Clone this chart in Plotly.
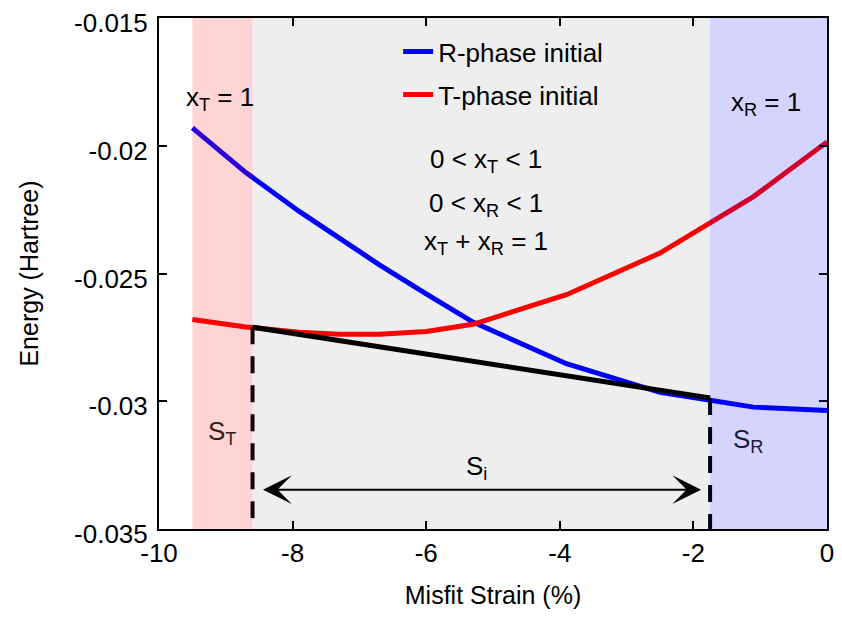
import plotly.graph_objects as go

# ---- data ----
strain = [-9.5, -8.7, -7.9, -7.3, -6.7, -6.0, -5.3, -3.9, -2.5, -1.1, 0.0]
energy_R = [-0.0193, -0.02105, -0.02257, -0.02364, -0.02466, -0.0258, -0.0269,
            -0.02853, -0.02965, -0.03023, -0.03036]
energy_T = [-0.0268, -0.02709, -0.0273, -0.02738, -0.02738, -0.02727, -0.02699,
            -0.02583, -0.0242, -0.02199, -0.01985]
tangent_strain = [-8.6, -1.75]
tangent_energy = [-0.0271, -0.02987]
arrow_energy = -0.03346
x_range = [-10, 0]
y_range = [-0.035, -0.015]
x_ticks = [-10, -8, -6, -4, -2, 0]
x_tick_labels = ["-10", "-8", "-6", "-4", "-2", "0"]
y_ticks = [-0.035, -0.03, -0.025, -0.02, -0.015]
y_tick_labels = ["-0.035", "-0.03", "-0.025", "-0.02", "-0.015"]

FONT = "Liberation Sans, Arial, sans-serif"

fig = go.Figure()

fig.add_trace(go.Scatter(x=strain, y=energy_R, mode="lines", name="R-phase initial",
                         line=dict(color="rgb(0,0,255)", width=5), legendgroup="R"))
fig.add_trace(go.Scatter(x=strain, y=energy_T, mode="lines", name="T-phase initial",
                         line=dict(color="rgb(255,0,0)", width=5), legendgroup="T"))
# common tangent
fig.add_trace(go.Scatter(x=tangent_strain, y=tangent_energy, mode="lines", showlegend=False,
                         line=dict(color="black", width=5)))
# dashed drop lines
for xs, ys in zip(tangent_strain, tangent_energy):
    fig.add_trace(go.Scatter(x=[xs, xs], y=[ys, y_range[0]], mode="lines", showlegend=False,
                             line=dict(color="black", width=4, dash="17px,12px")))

shapes = [
    dict(type="rect", xref="x", yref="paper", x0=tangent_strain[0], x1=tangent_strain[1],
         y0=0, y1=1, fillcolor="#eeeeee", line_width=0, layer="below"),
    dict(type="rect", xref="x", yref="paper", x0=strain[0], x1=tangent_strain[0],
         y0=0, y1=1, fillcolor="rgba(255,0,0,0.17)", line_width=0, layer="above"),
    dict(type="rect", xref="x", yref="paper", x0=tangent_strain[1], x1=strain[-1],
         y0=0, y1=1, fillcolor="rgba(0,0,255,0.17)", line_width=0, layer="above"),
]

ann_font = dict(family=FONT, size=26, color="black")
annotations = [
    dict(x=-9.08, y=-0.01815, text="x<sub>T</sub> = 1", showarrow=False, font=ann_font),
    dict(x=-0.92, y=-0.01835, text="x<sub>R</sub> = 1", showarrow=False, font=ann_font),
    dict(x=-5.11, y=-0.02058, text="0 < x<sub>T</sub> < 1", showarrow=False, font=ann_font),
    dict(x=-5.11, y=-0.02231, text="0 < x<sub>R</sub> < 1", showarrow=False, font=ann_font),
    dict(x=-5.11, y=-0.02377, text="x<sub>T</sub> + x<sub>R</sub> = 1", showarrow=False, font=ann_font),
    dict(x=-9.06, y=-0.03122, text="S<sub>T</sub>", showarrow=False,
         font=dict(family=FONT, size=26, color="#3a1a1a")),
    dict(x=-1.19, y=-0.03154, text="S<sub>R</sub>", showarrow=False,
         font=dict(family=FONT, size=26, color="#1a1a3a")),
    dict(x=-5.24, y=-0.0326, text="S<sub>i</sub>", showarrow=False, font=ann_font),
    dict(x=tangent_strain[1], y=arrow_energy, ax=tangent_strain[0], ay=arrow_energy,
         xref="x", yref="y", axref="x", ayref="y", text="", showarrow=True,
         arrowhead=3, startarrowhead=3, arrowside="end+start", arrowwidth=2,
         arrowsize=2.4, startarrowsize=2.4, standoff=9, startstandoff=9, arrowcolor="black"),
]

axis_common = dict(showline=True, linewidth=2, linecolor="black", mirror="ticks",
                   ticks="inside", ticklen=8, tickwidth=2, tickcolor="black",
                   showgrid=False, zeroline=False, ticklabeloverflow="allow",
                   automargin=False,
                   tickfont=dict(family=FONT, size=26, color="black"),
                   title_font=dict(family=FONT, size=25, color="black"))

fig.update_layout(
    width=826, height=601,
    margin=dict(l=151, r=7, t=10, b=80),
    paper_bgcolor="white", plot_bgcolor="white",
    xaxis=dict(range=x_range, tickvals=x_ticks, ticktext=x_tick_labels,
               title=dict(text="Misfit Strain (%)", standoff=21), **axis_common),
    yaxis=dict(range=y_range, tickvals=y_ticks, ticktext=y_tick_labels,
               ticklabelstandoff=4, ticklabelshift=5,
               title=dict(text="Energy (Hartree)", standoff=28), **axis_common),
    shapes=shapes,
    annotations=annotations,
    legend=dict(x=0.358, y=0.980, xanchor="left", yanchor="top", bgcolor="rgba(0,0,0,0)",
                font=dict(family=FONT, size=26, color="black"), traceorder="grouped",
                tracegroupgap=6),
    showlegend=True,
)

fig.write_html("out.html")
